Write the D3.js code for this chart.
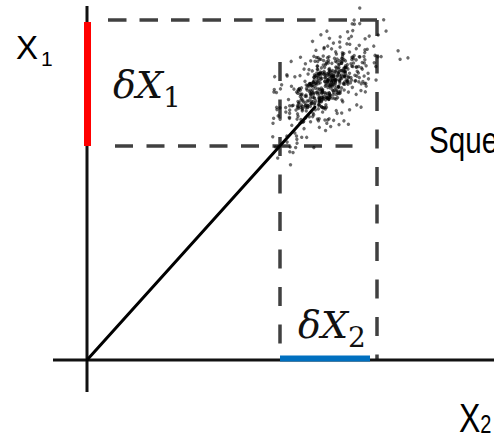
<!DOCTYPE html>
<html>
<head>
<meta charset="utf-8">
<script src="https://cdn.jsdelivr.net/npm/d3@7"></script>
<style>
  body { margin: 0; background: #fff; }
  svg { display: block; }
</style>
</head>
<body>
<script>
//axis extents, in data units (origin = 0,0)
var axisX2 = [-0.34, 4.07];
var axisX1 = [-0.32, 3.54];

//spread of the state on each axis
var deltaX2 = [1.93, 2.90];
var deltaX1 = [2.14, 3.40];
var redBar = [2.14, 3.38];
var blueBar = [1.93, 2.83];

//dashed guides
var topGuide = [0.21, 2.90];
var midGuide = [0.28, 2.655];
var leftGuide = [0, 2.98];
var rightGuide = [0, 3.40];

//mean vector and cloud centre
var meanEnd = [2.28, 2.53];
var cloudCenter = [2.37, 2.74];

//noise samples: along / across the squeezed direction (in sd units)
var cloudU = [0.12,-0.85,1.34,-0.27,0.56,-1.62,0.03,0.91,-0.44,2.05,-0.09,0.37,-1.15,0.68,-0.58,1.72,0.21,-2.21,0.47,-0.33,1.08,-0.71,0.15,-1.39,0.82,
  -0.18,0.64,-0.97,1.51,0.29,-0.52,2.43,-0.06,0.77,-1.88,0.41,-0.24,1.19,-0.63,0.08,-1.27,0.95,0.33,-0.81,1.66,-0.14,0.52,-2.04,0.19,1.28,
  -0.39,0.86,-1.07,0.24,1.93,-0.48,0.61,-0.02,-1.54,1.12,0.44,-0.76,0.17,2.31,-0.29,0.73,-1.21,0.05,1.45,-0.67,-0.11,0.98,-1.83,0.36,-0.54,
  1.03,-0.22,0.58,-1.42,0.27,0.84,-0.91,1.61,-0.35,0.13,-2.47,0.69,0.31,-0.59,1.24,-0.04,0.92,-1.13,0.46,-0.28,1.79,-0.74,0.09,0.63,-1.31,
  0.38,-0.17,1.37,-0.83,0.21,-0.45,2.12,0.57,-1.01,0.14,0.79,-0.36,-1.68,1.05,0.26,-0.62,0.48,-0.07,1.54,-1.24,0.32,0.71,-0.49,-0.95,1.17,
  -0.26,0.53,-1.49,0.88,0.11,-0.69,1.31,-0.16,0.42,-2.09,0.65,1.86,-0.41,0.02,-0.87,0.34,1.14,-0.55,-0.13,0.76,-1.36,0.23,2.62,-0.31,0.49,
  0.94,-1.18,0.18,-0.38,1.47,0.06,-0.78,0.59,-1.59,0.28,1.01,-0.21,0.67,-1.05,0.39,-0.47,1.89,-0.12,0.81,-0.66,0.16,-1.94,1.22,0.54,-0.03,
  -0.61,1.36,0.07,-0.93,0.45,-0.19,1.69,-1.28,0.87,0.22,-0.51,1.09,-0.34,-1.76,0.62,0.35,-0.08,1.41,-0.73,0.97,-1.11,0.25,0.58,-0.42,2.19,
  0.13,-0.64,1.26,-1.33,0.51,0.04,-0.89,0.72,-0.23,1.58,-0.46,0.29,-2.28,0.83,-0.15,1.15,0.43,-0.79,0.19,-1.19,2.01,-0.32,0.66,-0.57,0.09,
  1.44,-0.37,0.26,-1.03,0.78,-0.11,0.55,-1.71,1.07,0.31,-0.68,0.14,1.98,-0.49,-0.25,0.89,-1.46,0.40,-0.01,1.29,-0.84,0.60,-0.20,-1.12,0.74,
  -0.43,0.99,-0.56,0.17,2.26,-0.99,0.48,-0.30,1.13,-1.57,0.37,0.85,-0.10,-0.72,1.63,0.20,-1.25,0.57,0.03,-0.40,1.35,-2.12,0.70,0.27,-0.86,
  0.61,-0.05,1.18,-0.80,0.32,-1.44,0.93,0.10,-0.53,1.76,-0.28,0.46,-1.09,0.00,0.75,-0.65,1.52,-0.18,-1.82,0.39,0.86,-0.45,0.22,1.06,-0.96,
  -0.14,1.60,-0.70,0.50,-1.23,0.23,0.69,-0.37,2.38,-0.60,0.11,-1.51,0.96,0.30,-0.22,1.25,-0.88,0.42,-0.07,0.80,-1.37,1.02,-0.50,0.18,-1.98,
  0.33,0.72,-1.16,1.84,-0.27,0.06,-0.74,1.10,0.55,-0.39,-1.60,0.90,0.15,-0.95,1.39,-0.16,0.63,-2.35,0.44,1.20,-0.58,0.28,-0.12,0.84,-0.31,
  0.21,-0.43,0.67,-0.12,0.35,-0.78,0.04,0.52,-0.29,0.88,-0.56,0.16,-0.07,0.41,-0.94,0.27,0.73,-0.35,0.09,-0.61,1.02,-0.18,0.48,-0.83,0.31,
  -0.24,0.59,-0.66,0.13,0.95,-0.39,0.26,-0.02,0.71,-1.08,0.44,-0.15,0.83,-0.47,0.06,-0.72,0.37,1.15,-0.27,0.54,-0.09,0.19,-0.58,0.79,-0.33,
  0.47,-0.05,-0.86,0.32,0.63,-0.21,1.21,-0.49,0.11,0.76,-0.38,0.02,-0.69,0.28,0.91,-0.14,0.45,-1.17,0.23,-0.31,0.66,-0.52,0.14,0.38,-0.80,
  -0.11,0.84,-0.41,0.25,-0.97,0.57,0.08,-0.26,1.06,-0.63,0.34,-0.04,0.50,-0.74,0.17,0.99,-0.36,0.29,-0.55,0.70,-0.19,-0.89,0.42,0.03,0.62,
  0.36,-0.68,0.15,0.81,-0.23,0.49,-1.04,0.07,-0.46,0.74,0.22,-0.30,1.12,-0.60,0.18,-0.13,0.55,-0.82,0.40,0.01,-0.37,0.87,-0.25,0.60,-0.71,
  -0.34,0.12,0.69,-0.57,0.30,-0.06,0.93,-0.44,0.24,-0.91,0.51,0.10,-0.20,0.78,-0.64,0.33,1.09,-0.16,0.46,-0.77,0.05,-0.40,0.64,-0.28,0.20,
  0.58,-0.10,0.39,-0.73,0.86,-0.32,0.14,-0.53,1.00,-0.22,0.27,-0.87,0.43,0.72,-0.45,0.09,-0.14,0.61,-1.00,0.35,0.80,-0.58,0.18,-0.07,0.50,
  -0.48,0.26,-0.17,0.97,-0.62,0.44,0.06,-0.34,0.68,-0.79,0.21,0.53,-0.26,0.12,-0.95,0.37,-0.03,0.85,-0.50,0.30,-0.19,0.75,-0.42,0.16,1.18];
var cloudV = [-0.47,1.12,0.28,-1.36,0.05,0.83,-0.62,1.57,-0.19,-0.98,0.41,0.14,-1.77,0.66,-0.30,1.03,-0.08,0.52,-1.21,2.14,-0.55,0.24,0.89,-0.13,-1.48,
  0.71,-0.26,1.41,-0.84,0.09,-1.92,0.36,0.58,-0.41,1.24,-0.01,-0.67,1.85,0.19,-1.05,0.47,-0.35,0.96,-2.33,0.31,0.12,-0.78,1.33,-0.57,0.62,
  -0.09,1.69,-0.51,0.27,-1.17,0.80,0.04,-0.73,1.09,-1.62,0.43,-0.22,0.68,2.27,-0.94,0.16,-0.44,1.36,-0.15,-1.29,0.55,0.87,-0.60,0.21,-1.86,
  1.22,-0.39,0.07,-1.07,0.64,-0.18,1.78,-0.82,0.35,-2.05,0.93,0.11,-0.56,1.47,-0.29,0.49,-1.39,0.02,0.76,-0.66,1.15,-0.10,-1.60,0.39,0.85,
  -0.33,0.18,-1.25,1.01,-0.63,0.44,2.01,-0.12,-0.90,0.59,-1.44,0.26,0.97,-0.48,0.13,-0.04,1.61,-1.10,0.34,-0.70,0.78,-2.18,0.51,-0.24,1.27,
  0.60,-1.00,0.23,1.52,-0.38,-0.86,0.72,0.06,-1.55,1.17,-0.20,0.45,-0.60,1.94,-0.07,-1.31,0.88,0.29,-0.45,1.06,-0.92,0.15,-0.17,2.45,-0.76,
  -1.13,0.37,0.92,-0.27,1.32,-0.53,0.01,-1.70,0.65,0.24,-0.41,1.75,-0.95,0.50,-0.14,0.82,-1.27,0.10,1.40,-0.64,-0.02,0.69,-2.00,0.32,0.98,
  0.17,-0.71,1.26,-0.11,-1.40,0.53,0.86,-0.32,0.08,-0.88,2.09,-0.46,0.30,1.13,-1.19,-0.05,0.61,-0.58,1.55,-0.23,-1.65,0.40,0.74,-0.36,0.20,
  -0.79,1.46,0.03,-0.52,0.67,-1.23,0.25,1.88,-0.65,-0.16,0.94,-1.02,0.42,0.14,-2.26,0.79,-0.31,1.07,-0.06,0.56,-1.34,0.22,1.65,-0.87,0.33,
  0.46,-0.20,-1.50,0.84,0.11,-0.43,1.19,-0.77,0.57,2.30,-1.08,0.27,-0.12,0.70,-0.50,1.38,-0.97,0.00,-0.28,0.90,-1.74,0.63,0.19,-0.61,1.05,
  -0.24,0.76,-0.89,0.35,1.60,-0.15,-1.33,0.48,0.09,-0.68,1.21,-0.37,-0.03,1.83,-1.15,0.54,0.20,-0.82,0.99,-1.52,0.31,-0.09,0.64,2.04,-0.44,
  0.93,-1.45,0.13,0.61,-0.34,1.29,-0.74,-0.02,1.71,-0.99,0.38,-0.21,-1.85,0.71,0.26,-0.54,1.11,-0.13,0.45,-1.20,0.82,0.05,-0.69,1.50,-0.30,
  -0.58,0.24,1.35,-1.16,0.50,-0.07,0.87,-0.40,-1.58,0.66,0.15,1.97,-0.85,0.34,-0.25,-1.07,0.73,0.42,-0.62,1.23,-0.17,-2.10,0.58,0.08,1.00,
  0.29,-0.93,0.55,-0.18,1.44,-0.72,0.10,-1.28,0.81,0.37,-0.47,1.09,-0.04,-1.63,0.62,0.22,-0.80,1.70,-0.36,0.04,0.95,-1.04,0.28,-0.52,1.58,
  0.31,-0.52,0.08,0.67,-0.24,0.15,-0.81,0.42,-0.06,0.93,-0.37,0.19,0.58,-0.70,0.04,-0.29,0.75,-0.13,0.49,-0.88,0.22,0.61,-0.45,0.10,-0.16,
  -0.62,0.27,-0.09,0.84,-0.33,0.50,0.03,-0.74,0.36,-0.19,0.71,-0.55,0.12,-0.02,0.64,-0.41,0.25,-0.86,0.45,-0.11,0.79,-0.28,0.07,0.53,-0.67,
  0.17,0.90,-0.35,-0.05,0.46,-0.60,0.28,0.72,-0.14,-0.50,0.33,0.06,-0.77,0.59,-0.21,0.38,-0.44,0.13,0.85,-0.31,-0.08,0.51,-0.69,0.24,0.01,
  0.66,-0.18,0.41,-0.57,0.09,0.73,-0.39,-0.03,0.55,-0.83,0.20,0.47,-0.26,0.11,-0.64,0.35,0.80,-0.47,0.16,-0.12,0.60,-0.34,0.02,-0.73,0.43,
  -0.27,0.57,-0.66,0.14,0.39,-0.07,-0.49,0.82,-0.20,0.30,-0.92,0.05,0.63,-0.36,0.26,-0.58,0.18,0.70,-0.10,-0.42,0.48,-0.25,0.09,0.76,-0.54,
  0.44,-0.15,0.23,-0.78,0.60,-0.32,0.11,0.87,-0.46,0.00,0.37,-0.63,0.54,-0.23,0.15,-0.80,0.29,-0.04,0.68,-0.38,0.21,0.92,-0.56,0.34,-0.12,
  -0.71,0.08,0.52,-0.30,0.19,-0.60,0.74,-0.09,0.40,-0.48,0.62,-0.17,-0.84,0.27,0.10,0.56,-0.35,0.45,-0.22,0.07,-0.65,0.32,0.83,-0.43,0.13,
  0.25,-0.40,0.69,-0.11,-0.57,0.36,0.04,-0.75,0.50,0.18,-0.28,0.89,-0.52,0.22,0.60,-0.06,-0.47,0.30,-0.83,0.12,0.70,-0.24,0.42,-0.68,0.01];

document.addEventListener("DOMContentLoaded", init);

function init(){
    var width = 494, height = 438;

    var svg = d3.select("body").append("svg")
        .attr("width", width)
        .attr("height", height);

    //1 unit = 100px on both axes
    var x = d3.scaleLinear().domain([0, 4]).range([87, 487]);
    var y = d3.scaleLinear().domain([0, 3.6]).range([360, 0]);

    //scales for the noise cloud (local, rotated frame)
    var cu = d3.scaleLinear().domain([0, 1]).range([0, 34]);
    var cv = d3.scaleLinear().domain([0, 1]).range([0, 18]);

    var dashCol = "#404040";

    /* DASHED GUIDES */
    svg.append("line")
        .attr("x1", x(topGuide[0])).attr("x2", x(topGuide[1]))
        .attr("y1", y(deltaX1[1])).attr("y2", y(deltaX1[1]))
        .attr("stroke", dashCol).attr("stroke-width", 3.5)
        .attr("stroke-dasharray", "18.5,13");

    svg.append("line")
        .attr("x1", x(midGuide[0])).attr("x2", x(midGuide[1]))
        .attr("y1", y(deltaX1[0])).attr("y2", y(deltaX1[0]))
        .attr("stroke", dashCol).attr("stroke-width", 3.5)
        .attr("stroke-dasharray", "18,13.5");

    svg.append("line")
        .attr("x1", x(deltaX2[0])).attr("x2", x(deltaX2[0]))
        .attr("y1", y(leftGuide[1])).attr("y2", y(leftGuide[0]))
        .attr("stroke", dashCol).attr("stroke-width", 3.5)
        .attr("stroke-dasharray", "19,18.5");

    svg.append("line")
        .attr("x1", x(deltaX2[1])).attr("x2", x(deltaX2[1]))
        .attr("y1", y(rightGuide[1])).attr("y2", y(rightGuide[0]))
        .attr("stroke", dashCol).attr("stroke-width", 3.5)
        .attr("stroke-dasharray", "19,18.5")
        .attr("stroke-dashoffset", 3);

    /* NOISE CLOUD */
    var cloud = svg.append("g")
        .attr("transform", "translate(" + x(cloudCenter[0]) + "," + y(cloudCenter[1]) + ") rotate(-46)");

    cloud.selectAll("circle")
        .data(d3.zip(cloudU, cloudV))
        .enter()
        .append("circle")
        .attr("cx", function(d){ return cu(d[0]); })
        .attr("cy", function(d){ return cv(d[1]); })
        .attr("r", 1.7)
        .attr("fill", "#000")
        .attr("fill-opacity", 0.58);

    /* AXES */
    svg.append("line")
        .attr("x1", x(axisX2[0])).attr("x2", x(axisX2[1]))
        .attr("y1", y(0)).attr("y2", y(0))
        .attr("stroke", "#111").attr("stroke-width", 3);

    svg.append("line")
        .attr("x1", x(0)).attr("x2", x(0))
        .attr("y1", y(axisX1[1])).attr("y2", y(axisX1[0]))
        .attr("stroke", "#111").attr("stroke-width", 3);

    //mean vector
    svg.append("line")
        .attr("x1", x(0)).attr("y1", y(0))
        .attr("x2", x(meanEnd[0])).attr("y2", y(meanEnd[1]))
        .attr("stroke", "#000").attr("stroke-width", 3)
        .attr("stroke-linecap", "round");

    //spread bars
    svg.append("line")
        .attr("x1", x(0) + 0.5).attr("x2", x(0) + 0.5)
        .attr("y1", y(redBar[1])).attr("y2", y(redBar[0]))
        .attr("stroke", "#ff0000").attr("stroke-width", 7);

    svg.append("line")
        .attr("x1", x(blueBar[0])).attr("x2", x(blueBar[1]))
        .attr("y1", y(0) - 1.5).attr("y2", y(0) - 1.5)
        .attr("stroke", "#0070c0").attr("stroke-width", 6);

    /* LABELS */
    var sans = "'Liberation Sans', Arial, sans-serif";
    var serif = "'DejaVu Serif', serif";

    var lx1 = svg.append("text")
        .attr("x", 16).attr("y", 59)
        .style("font-family", sans).style("font-size", "33px")
        .attr("fill", "#000")
        .text("X");
    lx1.append("tspan").attr("x", 41).attr("dy", 7)
        .style("font-size", "21px").text("1");

    var lx2 = svg.append("text")
        .attr("transform", "translate(459,432) scale(0.8,1)")
        .style("font-family", sans).style("font-size", "40px")
        .attr("fill", "#000")
        .text("X");
    lx2.append("tspan").attr("dy", 1)
        .style("font-size", "25px").text("2");

    svg.append("text")
        .attr("transform", "translate(429,153) scale(0.8,1)")
        .style("font-family", sans).style("font-size", "37px")
        .attr("fill", "#000")
        .text("Squeezed");

    var d1 = svg.append("text")
        .attr("x", 113).attr("y", 98)
        .style("font-family", serif).style("font-size", "38px")
        .style("font-style", "italic")
        .attr("fill", "#111")
        .text("δX");
    d1.append("tspan").attr("dy", 9)
        .style("font-style", "normal").style("font-size", "28px").text("1");

    var d2 = svg.append("text")
        .attr("x", 298).attr("y", 338)
        .style("font-family", serif).style("font-size", "38px")
        .style("font-style", "italic")
        .attr("fill", "#111")
        .text("δX");
    d2.append("tspan").attr("dy", 9)
        .style("font-style", "normal").style("font-size", "28px").text("2");
}
</script>
</body>
</html>
